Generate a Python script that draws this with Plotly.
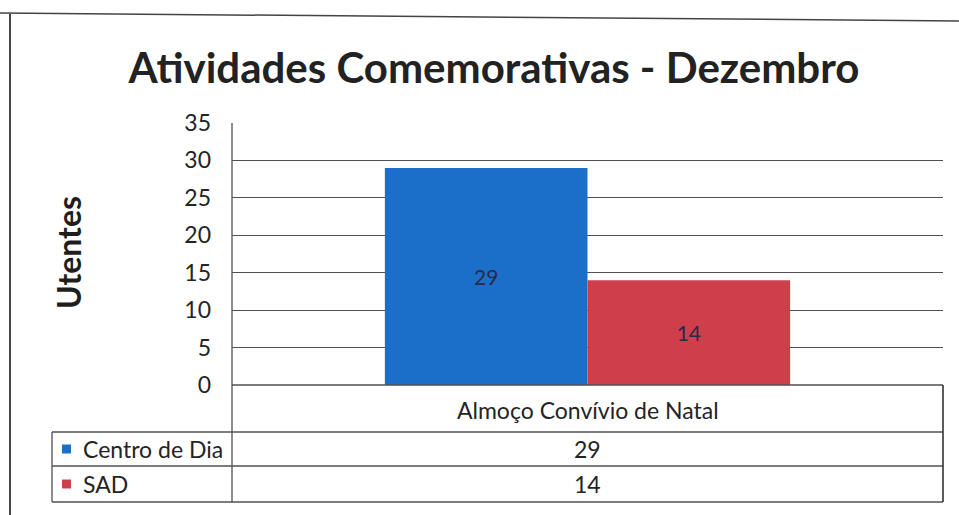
import plotly.graph_objects as go

# Chart data
title = "Atividades Comemorativas - Dezembro"
y_title = "Utentes"
categories = ["Almoço Convívio de Natal"]
series_names = ["Centro de Dia", "SAD"]
centro_de_dia = [29]
sad = [14]
series_values = [centro_de_dia, sad]
series_colors = ["#1B6FC8", "#CF3E4B"]
y_ticks = [0, 5, 10, 15, 20, 25, 30, 35]

W, H = 959, 515


def px(x):
    return x / W


def py(y):
    return 1 - y / H


FONT = "Lato"
TEXT = "#242424"
LINE = "#505050"

fig = go.Figure()
for name, vals, col in zip(series_names, series_values, series_colors):
    fig.add_trace(go.Bar(
        x=categories, y=vals, name=name,
        marker=dict(color=col, line=dict(width=0)),
        text=[str(v) for v in vals], textposition="inside",
        insidetextanchor="middle",
        textfont=dict(family=FONT, size=21, color="#2A2A48"),
    ))

# plot area and table geometry (pixels)
plot_left, plot_right = 232, 943
plot_top, plot_bottom = 123, 385
table_left = 52
row_lines = [432, 466, 502]

shapes = []


def hline(y, x0, x1, color=LINE, width=1.3):
    shapes.append(dict(type="line", xref="paper", yref="paper",
                       x0=px(x0), x1=px(x1), y0=py(y), y1=py(y),
                       line=dict(color=color, width=width)))


def vline(x, y0, y1, color=LINE, width=1.3):
    shapes.append(dict(type="line", xref="paper", yref="paper",
                       x0=px(x), x1=px(x), y0=py(y0), y1=py(y1),
                       line=dict(color=color, width=width)))


# outer chart frame
shapes.append(dict(type="line", xref="paper", yref="paper",
                   x0=px(0), x1=px(W), y0=py(13), y1=py(21),
                   line=dict(color="#444444", width=1.5)))
vline(10, 14, H, color="#333333", width=1.8)

# data table grid
hline(plot_bottom, plot_left, plot_right)
for y in row_lines:
    hline(y, table_left, plot_right)
vline(plot_left, plot_top, row_lines[-1])
vline(table_left, row_lines[0], row_lines[-1])
vline(plot_right, plot_bottom, row_lines[-1], color="#333333", width=1.6)


def label(text, x, y, size=23, xanchor="center", **kw):
    return dict(text=text, x=px(x), y=py(y), xref="paper", yref="paper",
                xanchor=xanchor, yanchor="middle", showarrow=False,
                font=dict(family=FONT, size=size, color=kw.pop("color", TEXT)), **kw)


annotations = []
cx = (plot_left + plot_right) / 2
annotations.append(label(categories[0], cx, (plot_bottom + row_lines[0]) / 2 + 1))
row_bounds = [(row_lines[0], row_lines[1]), (row_lines[1], row_lines[2])]
for (y0, y1), name, vals, col in zip(row_bounds, series_names, series_values, series_colors):
    yc = (y0 + y1) / 2
    annotations.append(label(str(vals[0]), cx, yc))
    annotations.append(label(name, 81, yc, xanchor="left"))
    shapes.append(dict(type="rect", xref="paper", yref="paper",
                       x0=px(62), x1=px(71), y0=py(yc - 4.5), y1=py(yc + 4.5),
                       fillcolor=col, line=dict(width=0)))

# rotated axis title
annotations.append(label(f"<b>{y_title}</b>", 68, 253, size=32,
                         textangle=-90, color="#1E1E1E"))

fig.update_layout(
    width=W, height=H,
    margin=dict(l=0, r=0, t=0, b=0, pad=0),
    paper_bgcolor="white", plot_bgcolor="white",
    showlegend=False,
    barmode="group", bargap=0.43, bargroupgap=0,
    title=dict(text=f"<b>{title}</b>", x=px(494), xanchor="center",
               y=py(68), yanchor="middle", automargin=False,
               font=dict(family=FONT, size=42, color="#222222")),
    xaxis=dict(domain=[px(plot_left), px(plot_right)], showticklabels=False,
               showline=False, showgrid=False, zeroline=False, automargin=False,
               range=[-0.5, 0.5], fixedrange=True),
    yaxis=dict(domain=[py(plot_bottom), py(plot_top)], range=[0, 35],
               tickvals=y_ticks, showgrid=True, gridcolor=LINE, gridwidth=1.3,
               zeroline=False, showline=False, ticks="", ticklen=0,
               ticklabelstandoff=20, automargin=False,
               tickfont=dict(family=FONT, size=23, color=TEXT)),
    shapes=shapes,
    annotations=annotations,
    font=dict(family=FONT),
)

fig.write_html("out.html")
